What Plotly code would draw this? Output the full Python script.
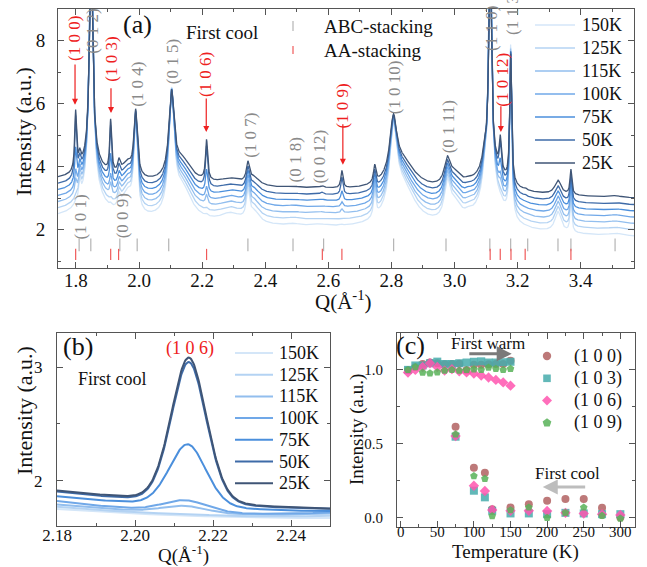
import numpy as np
import plotly.graph_objects as go

FONT = "Liberation Serif"
W, H = 647, 567

# ---------------- Panel (a): diffraction patterns, first cool ----------------
temps = ["150K", "125K", "115K", "100K", "75K", "50K", "25K"]
colors = ["#d4e6f8", "#b4d3f3", "#92beee", "#70a8e8", "#4b8fdc", "#3e6ba8", "#3f5576"]
offset_a = [0.0, 0.2, 0.4, 0.6, 0.8, 1.0, 1.22]
abc_scale = [1.0, 0.95, 0.9, 0.85, 0.8, 0.75, 0.7]
aa_scale = [0.04, 0.05, 0.22, 0.28, 0.56, 1.0, 1.0]
bg_poly = [2.33, -0.418, 0.06]          # baseline c0 + c1*(Q-1.75) + c2*(Q-1.75)^2

# ABC-stacking reflections: centre, height (150K), half width
abc_q = [1.812, 1.848, 1.850, 1.937, 1.962, 1.989, 2.103, 2.138, 2.290, 2.345, 2.365,
         2.490, 2.570, 2.747, 2.806, 2.835, 2.977, 3.000, 3.045, 3.095, 3.113, 3.115,
         3.178, 3.328, 3.369, 3.510]
abc_h = [0.55, 9.0, 0.9, 0.35, 0.7, 2.96, 3.74, 1.0, 0.3, 0.87, 0.35,
         0.06, 0.06, 0.78, 2.53, 1.3, 1.08, 0.6, 0.12, 0.6, 9.0, 1.2,
         5.43, 0.65, 1.0, 0.07]
abc_w = [0.004, 0.0065, 0.04, 0.005, 0.02, 0.0065, 0.010, 0.035, 0.04, 0.006, 0.02,
         0.02, 0.03, 0.0045, 0.013, 0.05, 0.011, 0.025, 0.012, 0.008, 0.0055, 0.05,
         0.0035, 0.012, 0.0035, 0.02]
# AA-stacking reflections (height at 25K)
aa_q = [1.799, 1.910, 1.935, 2.214, 2.581, 2.643, 3.145, 3.179, 3.224, 3.369]
aa_h = [1.87, 1.65, 0.15, 1.28, 0.05, 0.55, 1.03, 0.3, 0.05, 0.1]
aa_w = [0.0035, 0.0035, 0.004, 0.004, 0.004, 0.004, 0.004, 0.004, 0.004, 0.004]

# reflection markers
abc_ticks = [1.810, 1.847, 1.939, 1.994, 2.094, 2.345, 2.488, 2.585, 2.807, 2.973,
             3.112, 3.178, 3.232, 3.328, 3.369, 3.509]
aa_ticks = [1.799, 1.910, 1.935, 2.214, 2.581, 2.643, 3.113, 3.145, 3.179, 3.224, 3.369]

abc_labels = ["(1 0 1)", "(0 1 2)", "(0 0 9)", "(1 0 4)", "(0 1 5)", "(1 0 7)",
              "(0 1 8)", "(0 0 12)", "(1 0 10)", "(0 1 11)", "(1 1 0)", "(1 1 3)"]
abc_label_q = [1.816, 1.854, 1.946, 1.996, 2.104, 2.351, 2.497, 2.572, 2.810, 2.980, 3.119, 3.186]
abc_label_y = [2.38, 8.28, 2.42, 6.62, 7.34, 5.00, 4.22, 4.30, 6.50, 5.25, 8.37, 8.88]
aa_labels = ["(1 0 0)", "(1 0 3)", "(1 0 6)", "(1 0 9)", "(1 0 12)"]
aa_label_q = [1.797, 1.912, 2.213, 2.646, 3.153]
aa_label_y = [8.05, 7.40, 6.91, 5.93, 6.75]
aa_arrow_q = [1.797, 1.911, 2.213, 2.646, 3.147]
aa_arrow_from = [7.29, 6.53, 6.21, 5.39, 5.96]
aa_arrow_to = [5.96, 5.70, 5.10, 4.06, 5.10]

# ---------------- Panel (b): (1 0 6) peak ----------------
b_start = [1.75, 1.77, 1.79, 1.82, 1.86, 1.90, 1.91]   # at Q = 2.18
b_mid = [1.71, 1.72, 1.735, 1.75, 1.80, 1.83, 1.84]    # at Q = 2.20
b_end = [1.67, 1.69, 1.71, 1.72, 1.73, 1.75, 1.75]     # at Q = 2.25
b_height = [0.0, 0.01, 0.065, 0.105, 0.55, 1.25, 1.28]
b_center = [2.213, 2.213, 2.2125, 2.2128, 2.2135, 2.2138, 2.2138]
b_sigma = [0.005, 0.005, 0.0058, 0.0058, 0.0048, 0.0046, 0.0046]

# ---------------- Panel (c): normalised peak intensity ----------------
warm_T = [10, 20, 30, 40, 50, 60, 70, 80, 90, 100, 110, 120, 130, 140, 150]
cool_T = [75, 100, 115, 125, 150, 175, 200, 225, 250, 275, 300]
refl_names = ["(1 0 0)", "(1 0 3)", "(1 0 6)", "(1 0 9)"]
warm_I = {
    "(1 0 0)": [1.00, 1.02, 1.04, 1.05, 1.045, 1.038, 1.04, 1.042, 1.00, 1.035, 1.035, 1.038, 1.04, 1.04, 1.062],
    "(1 0 3)": [1.00, 1.03, 1.03, 1.045, 1.056, 1.04, 1.04, 1.045, 1.05, 1.055, 1.058, 1.05, 1.05, 1.052, 1.055],
    "(1 0 6)": [0.982, 1.00, 1.02, 1.045, 1.02, 0.995, 1.005, 0.99, 0.983, 0.975, 0.962, 0.948, 0.932, 0.915, 0.893],
    "(1 0 9)": [1.00, 1.02, 0.982, 0.977, 0.984, 0.995, 1.00, 0.995, 1.00, 1.005, 1.00, 1.016, 1.008, 1.00, 1.007],
}
cool_I = {
    "(1 0 0)": [0.615, 0.337, 0.303, 0.056, 0.068, 0.090, 0.113, 0.124, 0.124, 0.065, 0.000],
    "(1 0 3)": [0.547, 0.181, 0.136, 0.045, 0.027, 0.027, 0.022, 0.031, 0.027, 0.022, 0.022],
    "(1 0 6)": [0.552, 0.215, 0.179, 0.050, 0.045, 0.045, 0.043, 0.031, 0.027, 0.022, 0.016],
    "(1 0 9)": [0.563, 0.280, 0.262, 0.009, 0.050, 0.068, -0.003, 0.031, 0.068, 0.011, -0.007],
}
refl_colors = ["rgba(178,98,98,0.85)", "rgba(70,172,172,0.85)", "rgba(255,85,175,0.85)", "rgba(88,178,88,0.85)"]
refl_symbols = ["circle", "square", "diamond", "pentagon"]

# ======================================================================
fig = go.Figure()

Q = np.arange(1.743, 3.5695, 0.0004)
u = Q - 1.75
P_abc = np.zeros_like(Q)
for c, h, w in zip(abc_q, abc_h, abc_w):
    P_abc += h * w * w / ((Q - c) ** 2 + w * w)
P_aa = np.zeros_like(Q)
for c, h, w in zip(aa_q, aa_h, aa_w):
    P_aa += h * w * w / ((Q - c) ** 2 + w * w)
base = bg_poly[0] + bg_poly[1] * u + bg_poly[2] * u ** 2

for k, t in enumerate(temps):
    y = base + offset_a[k] + abc_scale[k] * P_abc + aa_scale[k] * P_aa
    fig.add_trace(go.Scatter(x=Q, y=y, mode="lines", name=t, showlegend=False,
                             line=dict(color=colors[k], width=1.3),
                             xaxis="x", yaxis="y"))

fig.add_trace(go.Scatter(x=abc_ticks, y=[1.515] * len(abc_ticks), mode="markers", name="ABC-stacking",
                         marker=dict(symbol="line-ns", size=9, line=dict(width=1.2, color="#b4b4b4")),
                         showlegend=False, xaxis="x", yaxis="y", hoverinfo="skip"))
fig.add_trace(go.Scatter(x=aa_ticks, y=[1.21] * len(aa_ticks), mode="markers", name="AA-stacking",
                         marker=dict(symbol="line-ns", size=8, line=dict(width=1.2, color="#f05a5a")),
                         showlegend=False, xaxis="x", yaxis="y", hoverinfo="skip"))

# panel (b)
Qb = np.arange(2.18, 2.2502, 0.0002)
for k, t in enumerate(temps):
    coef = np.polyfit([2.18, 2.20, 2.25], [b_start[k], b_mid[k], b_end[k]], 2)
    yb = np.polyval(coef, Qb)
    g = np.exp(-(Qb - b_center[k]) ** 2 / (2 * b_sigma[k] ** 2))
    l = b_sigma[k] ** 2 / ((Qb - b_center[k]) ** 2 + b_sigma[k] ** 2)
    yb = yb + b_height[k] * (0.85 * g + 0.15 * l)
    fig.add_trace(go.Scatter(x=Qb, y=yb, mode="lines", name=t, showlegend=False,
                             line=dict(color=colors[k], width=2),
                             xaxis="x2", yaxis="y2"))

# panel (c)
for name, col, sym in zip(refl_names, refl_colors, refl_symbols):
    fig.add_trace(go.Scatter(x=warm_T + cool_T, y=warm_I[name] + cool_I[name], mode="markers",
                             name=name, showlegend=False,
                             marker=dict(color=col, symbol=sym, size=8, line=dict(width=0)),
                             xaxis="x3", yaxis="y3"))


def px(xp):
    return xp / W


def py(yp):
    return 1 - yp / H


def ax(domain, rng, tick0, dtick, mdtick, size, fmt, anchor, standoff):
    return dict(domain=domain, range=rng, tick0=tick0, dtick=dtick, tickformat=fmt,
                showline=True, linecolor="#555", linewidth=1, mirror="ticks",
                ticks="inside", ticklen=6, tickcolor="#555", tickwidth=1,
                showgrid=False, zeroline=False, automargin=False, anchor=anchor,
                ticklabelstandoff=standoff,
                minor=dict(ticks="inside", ticklen=3, dtick=mdtick, tickcolor="#555", showgrid=False),
                tickfont=dict(family=FONT, size=size, color="#111"))


fig.update_layout(
    width=W, height=H, margin=dict(l=0, r=0, t=0, b=0),
    paper_bgcolor="white", plot_bgcolor="white", showlegend=False,
    font=dict(family=FONT, color="#111"),
    xaxis=ax([px(58), px(634)], [1.743, 3.569], 1.8, 0.2, 0.1, 19, ".1f", "y", -5),
    yaxis=ax([py(268), py(9)], [0.78, 9.0], 0, 2, 1, 19, "d", "x", 8),
    xaxis2=ax([px(57), px(330)], [2.18, 2.25], 2.18, 0.02, 0.01, 17, ".2f", "y2", -6),
    yaxis2=ax([py(526), py(333)], [1.6, 3.3], 0, 1, 0.5, 17, "d", "x2", 10),
    xaxis3=ax([px(397), px(635)], [-5, 320], 0, 50, 25, 15, "d", "y3", -9),
    yaxis3=ax([py(527), py(333)], [-0.065, 1.25], 0, 0.5, 0.25, 15, ".1f", "x3", 10),
)

ann = []
shapes = []


def text(x, y, s, size, color="#111", angle=0, xanchor="center", xref="paper", yref="paper"):
    ann.append(dict(x=x, y=y, xref=xref, yref=yref, text=s, showarrow=False, textangle=angle,
                    xanchor=xanchor, yanchor="middle", font=dict(family=FONT, size=size, color=color)))


def seg(x0, y0, x1, y1, color, width):
    shapes.append(dict(type="line", xref="paper", yref="paper", x0=px(x0), x1=px(x1),
                       y0=py(y0), y1=py(y1), line=dict(color=color, width=width)))


# axis titles
text(px(23), py(132), "Intensity (a.u.)", 22, angle=-90)
text(px(343), py(300), "Q(Å<sup>-1</sup>)", 21)
text(px(24), py(411), "Intensity (a.u.)", 22, angle=-90)
text(px(183), py(554), "Q(Å<sup>-1</sup>)", 19)
text(px(357), py(430), "Intensity (a.u.)", 19, angle=-90)
text(px(515), py(552), "Temperature (K)", 19)

# panel (a) texts and legends
text(px(137), py(24), "(a)", 26)
text(px(222), py(32), "First cool", 19)
text(px(322), py(26), "ABC-stacking", 19, xanchor="left")
text(px(322), py(50), "AA-stacking", 19, xanchor="left")
seg(293, 21, 293, 31, "#b4b4b4", 1.2)
seg(293, 46, 293, 54, "#f05a5a", 1.2)
for i, t in enumerate(temps):
    yy = 25 + 23 * i
    seg(535, yy, 575, yy, colors[i], 1.3)
    text(px(580), py(yy), t, 18, xanchor="left")

for s, x, y in zip(abc_labels, abc_label_q, abc_label_y):
    text(x, y, s, 17, color="#8a8a8a", angle=-90, xref="x", yref="y")
for s, x, y in zip(aa_labels, aa_label_q, aa_label_y):
    text(x, y, s, 17, color="#ee2020", angle=-90, xref="x", yref="y")
for x, y0, y1 in zip(aa_arrow_q, aa_arrow_from, aa_arrow_to):
    ann.append(dict(x=x, y=y1, ax=x, ay=y0, xref="x", yref="y", axref="x", ayref="y", text="",
                    showarrow=True, arrowhead=2, arrowsize=1, arrowwidth=1.2, arrowcolor="#ee2020"))

# panel (b) texts and legend
text(px(78), py(346), "(b)", 26)
text(px(190), py(348), "(1 0 6)", 18, color="#ee2020")
text(px(113), py(379), "First cool", 18)
for i, t in enumerate(temps):
    yy = 353 + 21.7 * i
    seg(235, yy, 273, yy, colors[i], 2)
    text(px(277), py(yy), t, 18, xanchor="left")

# panel (c) texts and legend
text(px(410), py(345), "(c)", 26)
text(px(488), py(343), "First warm", 17)
text(px(567), py(473), "First cool", 17)
ann.append(dict(x=151.6, y=1.109, ax=91.7, ay=1.109, xref="x3", yref="y3", axref="x3", ayref="y3",
                text="", showarrow=True, arrowhead=2, arrowsize=1, arrowwidth=3, arrowcolor="#7a7a7a"))
ann.append(dict(x=194, y=0.206, ax=254, ay=0.206, xref="x3", yref="y3", axref="x3", ayref="y3",
                text="", showarrow=True, arrowhead=2, arrowsize=1, arrowwidth=3, arrowcolor="#bdbdbd"))


def poly_path(pts):
    return "M " + " L ".join(f"{px(a):.5f},{py(b):.5f}" for a, b in pts) + " Z"


for i, (name, col, sym) in enumerate(zip(refl_names, refl_colors, refl_symbols)):
    cx, cy = 547, 356 + 22.3 * i
    r = 4.2
    if sym == "circle":
        shapes.append(dict(type="circle", xref="paper", yref="paper", x0=px(cx - r), x1=px(cx + r),
                           y0=py(cy + r), y1=py(cy - r), fillcolor=col, line=dict(width=0)))
    elif sym == "square":
        shapes.append(dict(type="rect", xref="paper", yref="paper", x0=px(cx - 3.8), x1=px(cx + 3.8),
                           y0=py(cy + 3.8), y1=py(cy - 3.8), fillcolor=col, line=dict(width=0)))
    elif sym == "diamond":
        shapes.append(dict(type="path", xref="paper", yref="paper", fillcolor=col, line=dict(width=0),
                           path=poly_path([(cx, cy - 5), (cx + 5, cy), (cx, cy + 5), (cx - 5, cy)])))
    else:
        pts = [(cx + 4.6 * np.cos(np.radians(-90 + 72 * j)), cy + 4.6 * np.sin(np.radians(-90 + 72 * j)))
               for j in range(5)]
        shapes.append(dict(type="path", xref="paper", yref="paper", fillcolor=col, line=dict(width=0),
                           path=poly_path(pts)))
    text(px(572), py(cy), name, 18, xanchor="left")

fig.update_layout(annotations=ann, shapes=shapes)

fig.write_html("out.html", config={"displayModeBar": False},
               post_script="document.body.style.margin='0px';")
